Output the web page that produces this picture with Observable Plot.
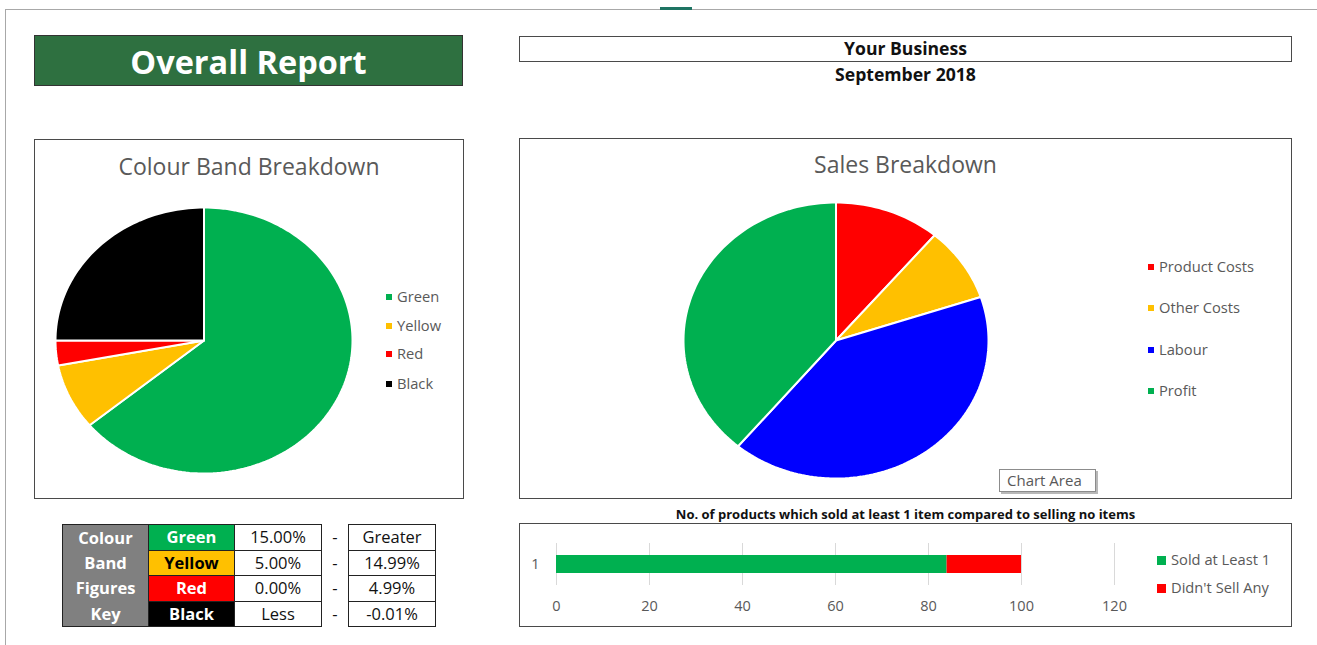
<!DOCTYPE html>
<html>
<head>
<meta charset="utf-8">
<script src="https://cdn.jsdelivr.net/npm/d3@7"></script>
<script src="https://cdn.jsdelivr.net/npm/@observablehq/plot@0.6"></script>
<style>
  html, body { margin: 0; padding: 0; background: #fff; }
  #page { position: relative; width: 1317px; height: 645px; overflow: hidden; background: #fff; font-family: "Open Sans", sans-serif; }
  .abs { position: absolute; }
  .box { position: absolute; box-sizing: border-box; border: 1px solid #4a4a4a; background: #fff; }
  .ctitle { position: absolute; left: 0; right: 0; text-align: center; color: #595959; font-size: 23px; font-family: "Open Sans", sans-serif; }
  .leg { position: absolute; font-size: 14.7px; color: #595959; font-family: "Open Sans", sans-serif; white-space: nowrap; line-height: 20px; }
  .leg .sw { display: inline-block; width: 6px; height: 6px; margin-right: 5px; vertical-align: middle; position: relative; top: -1px; }
  .plotwrap svg { overflow: visible; background: transparent !important; max-width: none !important; }
  table.key { position: absolute; border-collapse: collapse; font-family: "Open Sans", sans-serif; font-size: 16.5px; }
  table.key td { height: 25.5px; padding: 0; text-align: center; box-sizing: border-box; line-height: 22px; }
</style>
</head>
<body>
<div id="page">
  <!-- sheet edges -->
  <div class="abs" style="left:5px;top:9px;width:1312px;height:1px;background:#a8a8a8"></div>
  <div class="abs" style="left:5px;top:9px;width:1px;height:636px;background:#a8a8a8"></div>
  <div class="abs" style="left:660px;top:7px;width:32px;height:3px;background:#1e7463"></div>

  <div class="abs" id="header" style="left:34px;top:35px;width:429px;height:51px;box-sizing:border-box;background:#2e7040;border:1px solid #333;color:#fff;font-family:'Open Sans',sans-serif;font-weight:bold;font-size:32.5px;line-height:51px;text-align:center"></div>

  <div class="box" style="left:519px;top:36px;width:773px;height:26px;"></div>
  <div class="abs" id="biz" style="left:519px;top:36px;width:773px;text-align:center;font-family:'Open Sans',sans-serif;font-weight:bold;font-size:17.6px;color:#111"></div>
  <div class="abs" id="month" style="left:519px;top:62px;width:773px;text-align:center;font-family:'Open Sans',sans-serif;font-weight:bold;font-size:17.6px;color:#111"></div>

  <!-- left chart -->
  <div class="box" id="leftBox" style="left:34px;top:139px;width:430px;height:360px;">
    <div class="ctitle" id="leftTitle" style="top:10px"></div>
    <div class="plotwrap abs" id="leftPie" style="left:0;top:0"></div>
    <div id="leftLeg"></div>
  </div>

  <!-- right chart -->
  <div class="box" id="rightBox" style="left:519px;top:138px;width:773px;height:361px;">
    <div class="ctitle" id="rightTitle" style="top:9px"></div>
    <div class="plotwrap abs" id="rightPie" style="left:0;top:0"></div>
    <div id="rightLeg"></div>
  </div>

  <div class="abs" style="left:1001px;top:471px;width:97px;height:23px;background:#b8b8b8"></div>
  <div class="abs" id="chartArea" style="left:999px;top:469px;width:97px;height:23px;box-sizing:border-box;background:#fff;border:1px solid #8c8c8c;font-size:15px;color:#595959;line-height:21px;padding-left:7px;font-family:'Open Sans',sans-serif"></div>

  <!-- bar chart -->
  <div class="abs" id="barTitle" style="left:519px;top:505px;width:773px;text-align:center;font-family:'Open Sans',sans-serif;font-weight:bold;font-size:13px;color:#111"></div>
  <div class="box" style="left:519px;top:523px;width:773px;height:104px;">
    <div class="plotwrap abs" id="bar" style="left:0;top:0"></div>
    <div id="barLeg"></div>
  </div>

  <!-- key table -->
  <table class="key" id="keyTable" style="left:62px;top:524px;"></table>
</div>

<script>
// ---------- data ----------
const headerTitle = "Overall Report";
const businessName = "Your Business";
const periodLabel = "September 2018";

const bandTitle = "Colour Band Breakdown";
const bandLabels = ["Green", "Yellow", "Red", "Black"];
const bandValues = [64, 8, 3, 25];
const bandColours = ["#00B050", "#FFC000", "#FF0000", "#000000"];

const salesTitle = "Sales Breakdown";
const salesLabels = ["Product Costs", "Other Costs", "Labour", "Profit"];
const salesValues = [11.2, 8.7, 41.2, 38.9];
const salesColours = ["#FF0000", "#FFC000", "#0000FF", "#00B050"];

const barTitle = "No. of products which sold at least 1 item compared to selling no items";
const barSeries = ["Sold at Least 1", "Didn't Sell Any"];
const barValues = [84, 16];
const barColours = ["#00B050", "#FF0000"];
const barCategory = "1";
const barTicks = [0, 20, 40, 60, 80, 100, 120];

const keyRowLabels = ["Colour", "Band", "Figures", "Key"];
const keyBands = ["Green", "Yellow", "Red", "Black"];
const keyBandFill = ["#00B050", "#FFC000", "#FF0000", "#000000"];
const keyBandText = ["#ffffff", "#000000", "#ffffff", "#ffffff"];
const keyFrom = ["15.00%", "5.00%", "0.00%", "Less"];
const keyTo = ["Greater", "14.99%", "4.99%", "-0.01%"];

const chartAreaLabel = "Chart Area";

// ---------- text ----------
document.getElementById("header").textContent = headerTitle;
document.getElementById("biz").textContent = businessName;
document.getElementById("month").textContent = periodLabel;
document.getElementById("leftTitle").textContent = bandTitle;
document.getElementById("rightTitle").textContent = salesTitle;
document.getElementById("barTitle").textContent = barTitle;
document.getElementById("chartArea").textContent = chartAreaLabel;

// ---------- pie helper (slices start at 12 o'clock, clockwise) ----------
function pieOutline(labels, values) {
  const pie = d3.pie().sort(null).value(d => d)(values);
  const rows = [];
  pie.forEach((p, i) => {
    const key = "slice-" + i + "-" + labels[i];
    const steps = Math.max(2, Math.ceil((p.endAngle - p.startAngle) / (2 * Math.PI) * 240));
    rows.push({key, idx: i, x: 0, y: 0});
    for (let k = 0; k <= steps; k++) {
      const a = p.startAngle + (p.endAngle - p.startAngle) * k / steps;
      rows.push({key, idx: i, x: Math.sin(a), y: Math.cos(a)});
    }
    rows.push({key, idx: i, x: 0, y: 0});
  });
  return rows;
}

function drawPie(el, labels, values, colours, w, h, xr, yr) {
  const keys = labels.map((l, i) => "slice-" + i + "-" + l);
  const chart = Plot.plot({
    width: w, height: h,
    margin: 0,
    x: {domain: [-1, 1], range: xr, axis: null},
    y: {domain: [-1, 1], range: yr, axis: null},
    color: {type: "ordinal", domain: keys, range: colours},
    marks: [
      Plot.line(pieOutline(labels, values), {x: "x", y: "y", z: "key", fill: "key", stroke: "white", strokeWidth: 2, strokeLinejoin: "miter"})
    ]
  });
  document.getElementById(el).appendChild(chart);
}

drawPie("leftPie", bandLabels, bandValues, bandColours, 428, 358, [20, 317], [333, 67]);
drawPie("rightPie", salesLabels, salesValues, salesColours, 771, 359, [163, 468], [339, 63]);

function legend(el, labels, colours, left, tops, sw) {
  const c = document.getElementById(el);
  labels.forEach((l, i) => {
    const d = document.createElement("div");
    d.className = "leg";
    d.style.left = left + "px";
    d.style.top = tops[i] + "px";
    const s = document.createElement("span");
    s.className = "sw";
    s.style.background = colours[i];
    if (sw) { s.style.width = sw + "px"; s.style.height = sw + "px"; }
    d.appendChild(s);
    d.appendChild(document.createTextNode(l));
    c.appendChild(d);
  });
}
legend("leftLeg", bandLabels, bandColours, 351, [146, 175, 203, 233]);
legend("rightLeg", salesLabels, salesColours, 628, [117, 158, 200, 241]);
legend("barLeg", barSeries, barColours, 637, [25, 53], 9);

// ---------- bar chart ----------
const barData = barSeries.map((s, i) => ({row: barCategory, series: s, value: barValues[i]}));
const bar = Plot.plot({
  width: 771, height: 102,
  marginLeft: 36, marginRight: 177, marginTop: 19, marginBottom: 41,
  style: {fontFamily: "Open Sans, sans-serif", fontSize: "14.5px", color: "#595959"},
  x: {domain: [0, 120], ticks: barTicks, tickSize: 0, tickPadding: 15, label: null},
  y: {domain: [barCategory], padding: 0.4, tickSize: 0, tickPadding: 17, label: null},
  color: {domain: barSeries, range: barColours},
  marks: [
    Plot.ruleX(barTicks, {stroke: "#d9d9d9"}),
    Plot.barX(barData, {x: "value", y: "row", fill: "series"})
  ]
});
document.getElementById("bar").appendChild(bar);

// ---------- key table ----------
const tbl = document.getElementById("keyTable");
keyRowLabels.forEach((lab, i) => {
  const tr = document.createElement("tr");
  const c0 = document.createElement("td");
  c0.textContent = lab;
  Object.assign(c0.style, {width: "86px", background: "#808080", color: "#fff", fontWeight: "bold",
    borderLeft: "1px solid #222", borderRight: "1px solid #222",
    borderTop: i === 0 ? "1px solid #222" : "none", borderBottom: i === 3 ? "1px solid #222" : "none"});
  const c1 = document.createElement("td");
  c1.textContent = keyBands[i];
  Object.assign(c1.style, {width: "86px", background: keyBandFill[i], color: keyBandText[i], fontWeight: "bold", border: "1px solid #222"});
  const c2 = document.createElement("td");
  c2.textContent = keyFrom[i];
  Object.assign(c2.style, {width: "87px", background: "#fff", color: "#111", border: "1px solid #222"});
  const c3 = document.createElement("td");
  c3.textContent = "-";
  Object.assign(c3.style, {width: "27px", color: "#111", borderTop: "none", borderBottom: "none"});
  const c4 = document.createElement("td");
  c4.textContent = keyTo[i];
  Object.assign(c4.style, {width: "87px", background: "#fff", color: "#111", border: "1px solid #222"});
  [c0, c1, c2, c3, c4].forEach(c => tr.appendChild(c));
  tbl.appendChild(tr);
});
</script>
</body>
</html>
